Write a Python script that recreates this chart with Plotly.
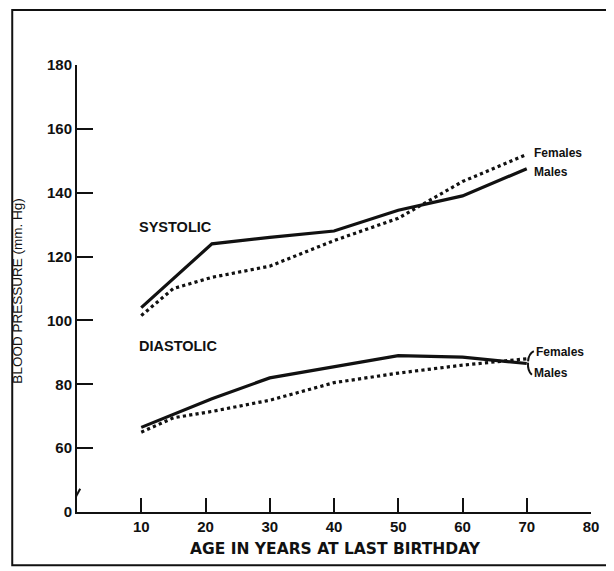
import plotly.graph_objects as go

# ages at which the curves were read
ages = [10, 15, 21, 30, 40, 50, 60, 70]

systolic_males = [104, 113, 124, 126, 128, 134.5, 139, 147.5]
systolic_females = [101.5, 110, 113.5, 117, 125, 132, 143.5, 152]
diastolic_males = [66.5, 70.5, 75.5, 82, 85.5, 89, 88.5, 86.5]
diastolic_females = [65, 69.5, 71.5, 75, 80.5, 83.5, 86, 88]

x_ticks = [10, 20, 30, 40, 50, 60, 70, 80]
# bottom of the broken axis is labelled 0
y_ticks = [40, 60, 80, 100, 120, 140, 160, 180]
y_tick_labels = ["0", "60", "80", "100", "120", "140", "160", "180"]

FONT = "Liberation Sans, Arial, Helvetica, sans-serif"
INK = "#111111"

fig = go.Figure()

for values, dash in [
    (systolic_males, "solid"),
    (systolic_females, "dot"),
    (diastolic_males, "solid"),
    (diastolic_females, "dot"),
]:
    fig.add_trace(go.Scatter(
        x=ages, y=values, mode="lines",
        line={"color": INK, "width": 3.2, "dash": dash},
        showlegend=False, hoverinfo="skip",
    ))

tick_font = {"size": 15, "color": INK, "family": FONT, "weight": "bold"}

fig.update_xaxes(
    range=[0, 80], tickvals=x_ticks, ticks="inside", ticklen=14, tickwidth=2,
    tickcolor=INK, showline=True, linewidth=2, linecolor=INK, showgrid=False,
    zeroline=False, tickfont=tick_font,
)
fig.update_yaxes(
    range=[40, 180], tickvals=y_ticks, ticktext=y_tick_labels, ticks="inside",
    ticklen=16, tickwidth=2, tickcolor=INK, showline=True, linewidth=2,
    linecolor=INK, showgrid=False, zeroline=False, tickfont=tick_font,
)

# axis break and outer frame
fig.add_shape(type="rect", xref="x", yref="y", x0=-0.6, x1=0.6, y0=44.0, y1=47.0,
              fillcolor="white", line={"width": 0}, layer="above")
fig.add_shape(type="line", xref="x", yref="y", x0=-0.5, x1=0.5, y0=43.6, y1=47.3,
              line={"color": INK, "width": 2}, layer="above")
fig.add_shape(type="rect", xref="paper", yref="paper", x0=-0.126, x1=1.033,
              y0=-0.119, y1=1.123, line={"color": INK, "width": 2})

# brace joining the diastolic labels
fig.add_shape(type="path", xref="x", yref="y",
              path="M 70.2,87.2 Q 70.3,89.6 71.1,90.4",
              line={"color": INK, "width": 2})
fig.add_shape(type="path", xref="x", yref="y",
              path="M 70.2,86.8 Q 70.1,84.2 70.8,83.0",
              line={"color": INK, "width": 2})

labels = [
    ("SYSTOLIC", 9.3, 129.3, 14.5),
    ("DIASTOLIC", 9.3, 92.0, 14.5),
    ("Females", 70.8, 152.4, 12),
    ("Males", 70.8, 146.6, 12),
    ("Females", 71.1, 90.0, 12),
    ("Males", 70.8, 83.4, 12),
]
for text, x, y, size in labels:
    fig.add_annotation(
        x=x, y=y, xref="x", yref="y", text=f"<b>{text}</b>", showarrow=False,
        xanchor="left", yanchor="middle",
        font={"size": size, "color": INK, "family": FONT},
    )

fig.add_annotation(
    x=0.502, y=-0.083, xref="paper", yref="paper",
    text="AGE IN YEARS AT LAST BIRTHDAY", showarrow=False,
    xanchor="center", yanchor="middle",
    font={"size": 15.5, "color": INK, "family": "DejaVu Sans, sans-serif",
          "weight": 600},
)
fig.add_annotation(
    x=-0.115, y=0.495, xref="paper", yref="paper",
    text="BLOOD PRESSURE (mm. Hg)", showarrow=False, textangle=-90,
    xanchor="center", yanchor="middle",
    font={"size": 13.5, "color": INK, "family": FONT},
)

# page body has an 8px margin, so the figure is sized to sit inside the window
fig.update_layout(
    width=606, height=563,
    margin={"l": 69, "r": 23, "t": 57, "b": 59},
    paper_bgcolor="#FFFFFF", plot_bgcolor="#FFFFFF",
    font={"family": FONT, "color": INK},
)

fig.write_html("out.html")
